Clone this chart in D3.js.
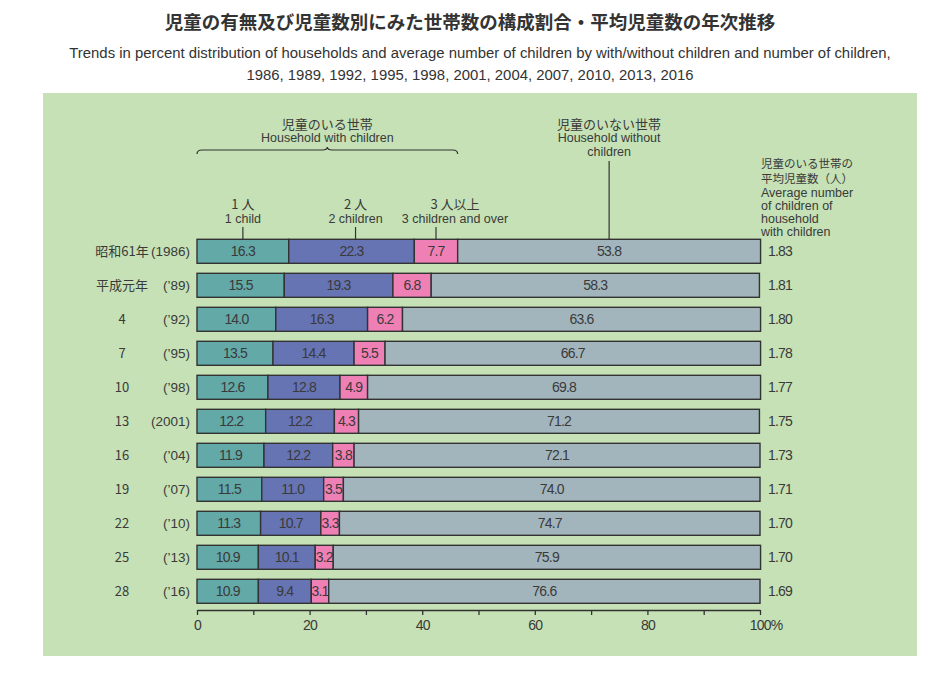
<!DOCTYPE html>
<html>
<head>
<meta charset="utf-8">
<script src="https://cdn.jsdelivr.net/npm/d3@7"></script>
<style>
  html, body { margin: 0; padding: 0; background: #ffffff; }
  svg { display: block; }
</style>
</head>
<body>
<script>
// ---------- DATA ----------
const eraLabels = ["昭和61年", "平成元年", "4", "7", "10", "13", "16", "19", "22", "25", "28"];
const yearLabels = ["(1986)", "(’89)", "(’92)", "(’95)", "(’98)", "(2001)", "(’04)", "(’07)", "(’10)", "(’13)", "(’16)"];
const oneChild = [16.3, 15.5, 14.0, 13.5, 12.6, 12.2, 11.9, 11.5, 11.3, 10.9, 10.9];
const twoChildren = [22.3, 19.3, 16.3, 14.4, 12.8, 12.2, 12.2, 11.0, 10.7, 10.1, 9.4];
const threeOver = [7.7, 6.8, 6.2, 5.5, 4.9, 4.3, 3.8, 3.5, 3.3, 3.2, 3.1];
const noChildren = [53.8, 58.3, 63.6, 66.7, 69.8, 71.2, 72.1, 74.0, 74.7, 75.9, 76.6];
const avgChildren = ["1.83", "1.81", "1.80", "1.78", "1.77", "1.75", "1.73", "1.71", "1.70", "1.70", "1.69"];
const xTicks = [0, 10, 20, 30, 40, 50, 60, 70, 80, 90, 100];
const xTickLabels = [0, 20, 40, 60, 80, 100];

const seriesKeys = ["one", "two", "three", "none"];
const seriesColors = { one: "#62a9a8", two: "#6674b4", three: "#ef80b5", none: "#a2b5bd" };

const rows = eraLabels.map((e, i) => ({
  i, era: e, year: yearLabels[i],
  one: oneChild[i], two: twoChildren[i], three: threeOver[i], none: noChildren[i],
  avg: avgChildren[i]
}));

// ---------- LAYOUT ----------
const W = 941, H = 675;
const svg = d3.select("body").append("svg").attr("width", W).attr("height", H);

const CJK = "'Noto Sans CJK JP', 'Noto Sans', sans-serif";
const SANS = "'Liberation Sans', Arial, sans-serif";
const NUM = "'Liberation Sans', Arial, sans-serif";
const TXT = "#3a3a3a";

// green panel
svg.append("rect").attr("x", 43).attr("y", 93).attr("width", 874).attr("height", 563)
  .attr("fill", "#c5e1b5");

// title
svg.append("text").attr("x", 470).attr("y", 29).attr("text-anchor", "middle")
  .attr("font-family", CJK).attr("font-size", 18.5).attr("font-weight", 700).attr("fill", "#333")
  .text("児童の有無及び児童数別にみた世帯数の構成割合・平均児童数の年次推移");
svg.append("text").attr("x", 480).attr("y", 58).attr("text-anchor", "middle")
  .attr("font-family", SANS).attr("font-size", 14.9).attr("fill", "#333")
  .text("Trends in percent distribution of households and average number of children by with/without children and number of children,");
svg.append("text").attr("x", 470).attr("y", 80).attr("text-anchor", "middle")
  .attr("font-family", SANS).attr("font-size", 14.9).attr("fill", "#333")
  .text("1986, 1989, 1992, 1995, 1998, 2001, 2004, 2007, 2010, 2013, 2016");

// scales
const x = d3.scaleLinear().domain([0, 100]).range([197, 760]);
const y = d3.scaleBand().domain(rows.map(d => d.i))
  .range([234.3, 234.3 + 34 * 11]).paddingInner(10 / 34).paddingOuter(5 / 34);

const stacked = d3.stack().keys(seriesKeys)(rows);

// bars
const g = svg.append("g");
stacked.forEach(layer => {
  const key = layer.key;
  g.append("g").selectAll("rect").data(layer).join("rect")
    .attr("x", d => x(d[0]))
    .attr("y", d => y(d.data.i))
    .attr("width", d => x(d[1]) - x(d[0]))
    .attr("height", y.bandwidth())
    .attr("fill", seriesColors[key])
    .attr("stroke", "#333")
    .attr("stroke-width", 1.4);
  g.append("g").selectAll("text").data(layer).join("text")
    .attr("x", d => (x(d[0]) + x(d[1])) / 2)
    .attr("y", d => y(d.data.i) + y.bandwidth() / 2 + 5)
    .attr("text-anchor", "middle")
    .attr("font-family", NUM).attr("font-size", 14).attr("letter-spacing", -0.8).attr("fill", TXT)
    .text(d => d.data[key].toFixed(1));
});

// left labels
svg.append("g").selectAll("text").data(rows).join("text")
  .attr("x", 122).attr("y", d => y(d.i) + y.bandwidth() / 2 + 5)
  .attr("text-anchor", "middle").attr("font-family", CJK).attr("font-size", 13).attr("fill", TXT)
  .text(d => d.era);
svg.append("g").selectAll("text").data(rows).join("text")
  .attr("x", 190).attr("y", d => y(d.i) + y.bandwidth() / 2 + 5)
  .attr("text-anchor", "end").attr("font-family", SANS).attr("font-size", 13.5).attr("fill", TXT)
  .text(d => d.year);

// right averages
svg.append("g").selectAll("text").data(rows).join("text")
  .attr("x", 768).attr("y", d => y(d.i) + y.bandwidth() / 2 + 5)
  .attr("font-family", NUM).attr("font-size", 14).attr("letter-spacing", -0.8).attr("fill", TXT)
  .text(d => d.avg);

// x axis
const axisY = 610;
const axis = d3.axisBottom(x).tickValues(xTicks).tickSize(5).tickSizeOuter(0).tickPadding(5)
  .tickFormat(d => xTickLabels.includes(d) ? (d === 100 ? "100%" : d) : "");
const ax = svg.append("g").attr("transform", `translate(0,${axisY})`).call(axis);
ax.select(".domain").attr("stroke", "#333").attr("stroke-width", 1.3);
ax.selectAll(".tick line").attr("stroke", "#333").attr("stroke-width", 1.3);
ax.selectAll(".tick text").attr("font-family", NUM).attr("font-size", 14).attr("letter-spacing", -0.8)
  .attr("fill", TXT).attr("dx", d => d === 100 ? 5.5 : 0);

// ---------- annotations ----------
const first = stacked.map(l => l[0]);
const centers = first.map(d => x((d[0] + d[1]) / 2));
const barTop = y(0);

function ann(lines, cx, y0, step) {
  lines.forEach((ln, k) => {
    svg.append("text").attr("x", cx).attr("y", y0 + k * step).attr("text-anchor", "middle")
      .attr("font-family", ln.cjk ? CJK : SANS).attr("font-size", ln.cjk ? 13 : 12.5)
      .attr("fill", TXT).text(ln.t);
  });
}
const tickTop = 227;
[0, 1, 2].forEach(k => {
  svg.append("line").attr("x1", centers[k] + (k === 1 ? 4 : 0)).attr("x2", centers[k] + (k === 1 ? 4 : 0))
    .attr("y1", tickTop).attr("y2", barTop).attr("stroke", "#333").attr("stroke-width", 1.2);
});
ann([{ t: "1 人", cjk: true }, { t: "1 child" }], centers[0], 209, 13.5);
ann([{ t: "2 人", cjk: true }, { t: "2 children" }], centers[1] + 4, 209, 13.5);
ann([{ t: "3 人以上", cjk: true }, { t: "3 children and over" }], centers[2] + 19, 209, 13.5);

// without-children tick
svg.append("line").attr("x1", centers[3]).attr("x2", centers[3])
  .attr("y1", 161).attr("y2", barTop).attr("stroke", "#333").attr("stroke-width", 1.2);
ann([{ t: "児童のいない世帯", cjk: true }, { t: "Household without" }, { t: "children" }], centers[3], 128.5, 13.5);

// brace over households with children
const bx0 = x(0), bx1 = x(first[2][1]), bm = (bx0 + bx1) / 2, by = 150;
const brace = d3.path();
brace.moveTo(bx0, by + 4);
brace.quadraticCurveTo(bx0, by, bx0 + 5, by);
brace.lineTo(bm - 5, by);
brace.quadraticCurveTo(bm, by, bm, by - 3);
brace.quadraticCurveTo(bm, by, bm + 5, by);
brace.lineTo(bx1 - 5, by);
brace.quadraticCurveTo(bx1, by, bx1, by + 4);
svg.append("path").attr("d", brace.toString()).attr("fill", "none")
  .attr("stroke", "#333").attr("stroke-width", 1.2);
ann([{ t: "児童のいる世帯", cjk: true }, { t: "Household with children" }], bm, 128.5, 13.5);

// right header
const rh = [
  { t: "児童のいる世帯の", cjk: true, y: 167.5 },
  { t: "平均児童数（人）", cjk: true, y: 183 },
  { t: "Average number", y: 197 },
  { t: "of children of", y: 210 },
  { t: "household", y: 223 },
  { t: "with children", y: 236 }
];
rh.forEach(ln => {
  svg.append("text").attr("x", 761).attr("y", ln.y)
    .attr("font-family", ln.cjk ? CJK : SANS).attr("font-size", ln.cjk ? 11.5 : 12.5)
    .attr("fill", TXT).text(ln.t);
});
</script>
</body>
</html>
